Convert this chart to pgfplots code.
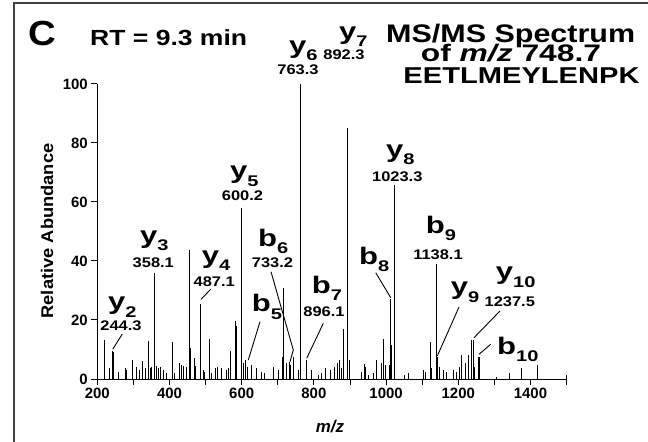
\documentclass[border=0pt]{standalone}
\usepackage{fontspec}
\setmainfont{Liberation Sans}
\usepackage{pgfplots}
\usepackage{pgfplotstable}
\pgfplotsset{compat=1.18}

% stick spectrum: m/z, relative abundance
\pgfplotstableread{
mz int
221 13.2
235 3.6
242.6 9.6
244.4 9.2
258 2.4
278.6 3.6
281 3
298 6.6
309 4
318 3
325 6.2
332 3.6
341 13
346 3.6
350 4.1
358.1 36
362.5 4.4
369 3.6
374 4
383 3
392 1.9
409 12.6
415 1.9
427 5.3
434 4.7
440 4.4
447 4
455 43.6
458.5 10.4
468 7.2
473 4.4
487.1 25.3
494 3
498 2.4
510 13.5
517 2.1
526 3.6
532 4
544 3.6
558 3
563 3.6
567.5 9.5
583 19.5
586 18
600.2 58
604 5.3
611 6.4
616 4.1
626 4.7
641 3.6
655 2.4
664 1.9
687.5 4.1
701 3
713 7.5
717 31
724 5.3
731 5.8
736 4.7
743 7.5
757 3
763.3 100
780 6.6
794 3
812 1.3
821 1.9
832 3.6
847 3
858 4.1
866 5.5
872 6.4
877 3.6
881 16.8
892.3 85
898 6.4
932 2.4
939 5
944 4
951 1.3
965 1.9
974 6.6
988 5.5
992 13.5
997 4.7
1009 4.7
1011 27
1015.4 11.5
1023.3 65.8
1052 1.3
1061 1.9
1103 3
1108 2.4
1121.5 12.6
1126 3.6
1138.1 39
1142 7.5
1149 4.1
1158.5 3
1166 2.4
1186 3
1193.5 2.4
1203 4.1
1209 8.1
1218.5 5.3
1228 8.1
1237 13.2
1241.6 13.2
1246 4.1
1255 7.5
1258 7.5
1306 0.8
1341 1.9
1373.6 3.6
1376 2.4
1420 4.7
1499 1.5
}\spec

\newcommand{\fs}[1]{\bfseries\fontsize{#1}{#1}\selectfont}
% ion label: letter + lowered subscript, widened like the original lettering
\newcommand{\ion}[2]{\scalebox{1.3}[1]{{\fs{24}#1}\raisebox{-7.5bp}{\fs{15.5}#2}}}
\newcommand{\mass}[1]{\scalebox{1.18}[1]{\fs{14}#1}}

\begin{document}
\begin{tikzpicture}
\begin{axis}[
    at={(0,0)}, anchor=south west,
    scale only axis,
    width=469.3bp, height=295bp,
    xmin=200, xmax=1500, ymin=0, ymax=100,
    axis lines=left,
    axis line style={-, line width=1bp},
    xtick={200,400,...,1400},
    minor xtick={300,500,...,1500},
    ytick={0,20,...,100},
    tick align=outside,
    major tick length=6bp, minor tick length=6bp,
    tick style={line width=1bp, black},
    ticklabel style={font=\fs{15}},
    /pgf/number format/assume math mode=true,
    /pgf/number format/1000 sep={},
    clip=false,
]
\addplot[ycomb, black, line width=0.9bp, mark=none] table[x=mz, y=int] {\spec};
\end{axis}

% annotations in the reference's pixel frame: (px,py), y downwards
\begin{scope}[x=1bp,y=-1bp,shift={(-97.3,-379)}]
\draw[line width=1.3bp, black!75] (14,460) -- (14,3) -- (660,3);

\node[anchor=base west, inner sep=0] at (28,45) {\scalebox{1.1}[1]{\fs{35}C}};
\node[anchor=base west, inner sep=0] at (90,45) {\scalebox{1.21}[1]{\fs{22}RT = 9.3 min}};
\node[anchor=base west, inner sep=0] at (386,42) {\scalebox{1.2}[1]{\fs{25.5}MS/MS Spectrum}};
\node[anchor=base, inner sep=0] at (511,61) {\scalebox{1.33}[1]{\fs{24}of \textit{m/z} 748.7}};
\node[anchor=base, inner sep=0] at (521.5,83) {\scalebox{1.27}[1]{\fs{23}EETLMEYLENPK}};

\node[rotate=90, inner sep=0] at (47,231) {\scalebox{1.08}[1]{\fs{17}Relative Abundance}};
\node[inner sep=0, font=\fs{17}\itshape] at (330,427) {m/z};

% ion labels
\node[anchor=base west, inner sep=0] at (289,53) {\ion{y}{6}};
\node[anchor=base, inner sep=0] at (298,74) {\mass{763.3}};
\node[anchor=base west, inner sep=0] at (339,39) {\ion{y}{7}};
\node[anchor=base, inner sep=0] at (344,59) {\mass{892.3}};
\node[anchor=base west, inner sep=0] at (386,157) {\ion{y}{8}};
\node[anchor=base, inner sep=0] at (397.3,181.7) {\mass{1023.3}};
\node[anchor=base west, inner sep=0] at (230,178.5) {\ion{y}{5}};
\node[anchor=base, inner sep=0] at (242.5,200) {\mass{600.2}};
\node[anchor=base west, inner sep=0] at (140,243) {\ion{y}{3}};
\node[anchor=base, inner sep=0] at (153.3,267.7) {\mass{358.1}};
\node[anchor=base west, inner sep=0] at (201.7,263) {\ion{y}{4}};
\node[anchor=base, inner sep=0] at (214.2,286) {\mass{487.1}};
\node[anchor=base west, inner sep=0] at (108,309.5) {\ion{y}{2}};
\node[anchor=base, inner sep=0] at (121,330.5) {\mass{244.3}};
\node[anchor=base west, inner sep=0] at (258,246) {\ion{b}{6}};
\node[anchor=base, inner sep=0] at (272.5,267.7) {\mass{733.2}};
\node[anchor=base west, inner sep=0] at (251.7,311.7) {\ion{b}{5}};
\node[anchor=base west, inner sep=0] at (311.7,293) {\ion{b}{7}};
\node[anchor=base, inner sep=0] at (324,316.7) {\mass{896.1}};
\node[anchor=base west, inner sep=0] at (359,264.3) {\ion{b}{8}};
\node[anchor=base west, inner sep=0] at (425.7,233) {\ion{b}{9}};
\node[anchor=base, inner sep=0] at (438,259.3) {\mass{1138.1}};
\node[anchor=base west, inner sep=0] at (450.7,294.5) {\ion{y}{9}};
\node[anchor=base west, inner sep=0] at (495.7,279.5) {\ion{y}{10}};
\node[anchor=base, inner sep=0] at (509.8,306) {\mass{1237.5}};
\node[anchor=base west, inner sep=0] at (497,354.3) {\ion{b}{10}};

% pointers
\begin{scope}[line width=0.9bp]
\draw (122.3,334) -- (112.7,349.3);
\draw (210.7,289.3) -- (201,299.3);
\draw (260,321.7) -- (248.3,360);
\draw (271,271.7) -- (293.3,350) -- (290,361.7);
\draw (323.3,323.3) -- (306.7,358.3);
\draw (375.7,272.7) -- (390.7,297.7);
\draw (459,307) -- (437.3,356);
\draw (500,311) -- (474,337.7);
\draw (490.7,344.3) -- (479,354.3);
\end{scope}
\end{scope}

\pgfresetboundingbox
\useasboundingbox (-97.3bp,-63bp) rectangle (550.7bp,379bp);
\end{tikzpicture}
\end{document}
